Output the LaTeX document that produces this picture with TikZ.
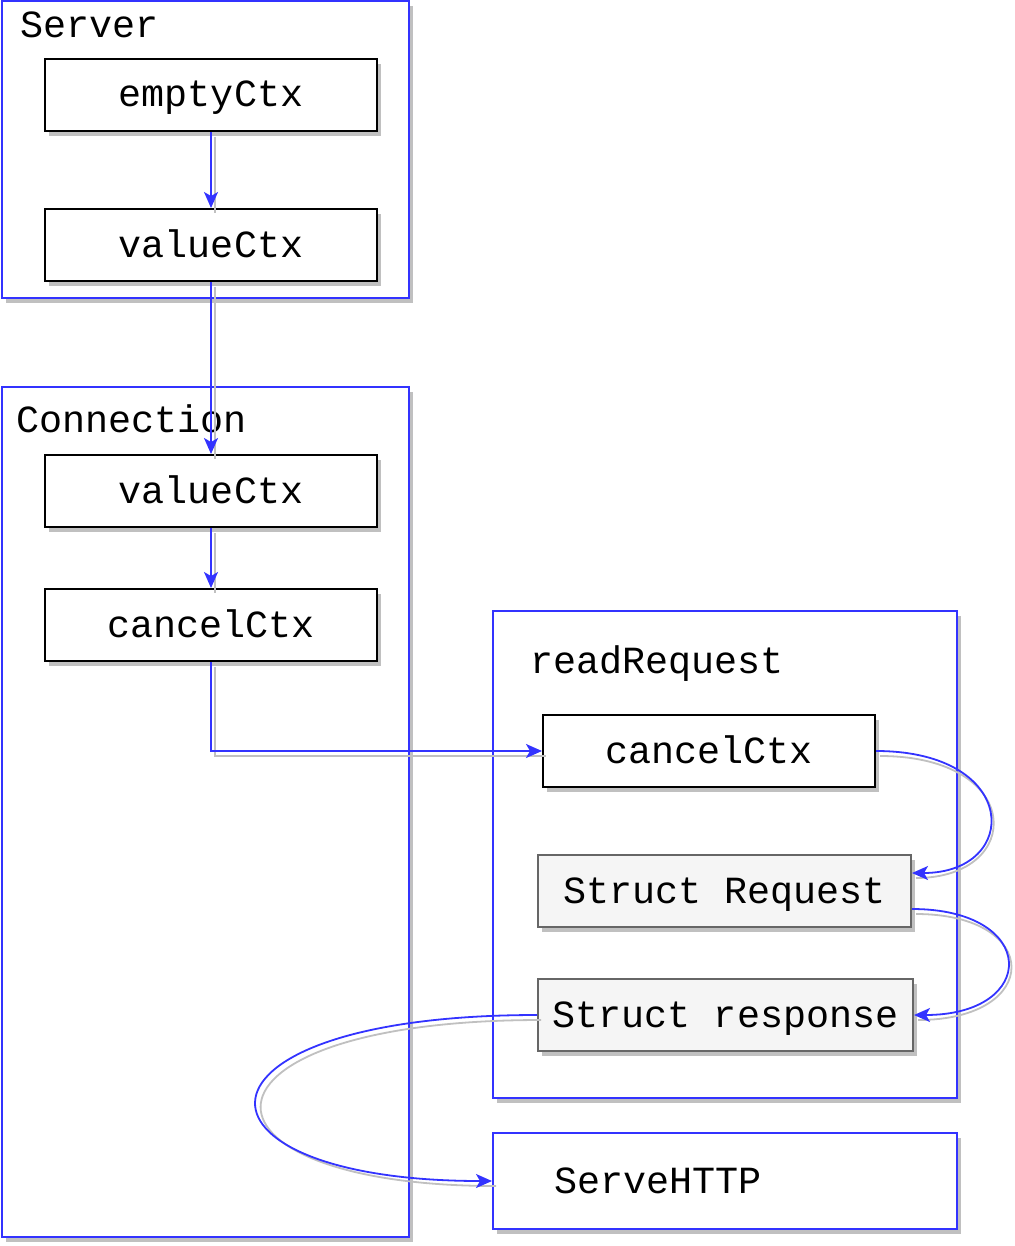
\documentclass[tikz,border=0pt]{standalone}
\usepackage{fontspec}
\newfontfamily\codefont{Liberation Mono}
\usepackage{tikz}
\usetikzlibrary{arrows.meta,positioning,shadows}
\definecolor{linkblue}{HTML}{3333FF}
\definecolor{boxgray}{HTML}{F5F5F5}
\definecolor{edgegray}{HTML}{666666}
\definecolor{shadegray}{HTML}{C0C0C0}

\begin{document}
\begin{tikzpicture}[x=0.5pt, y=-0.5pt,
  every node/.style={font=\codefont\fontsize{19.2}{22}\selectfont},
  shade/.style={drop shadow={shadow xshift=2pt, shadow yshift=-2.5pt, fill=shadegray, opacity=1}},
  frame/.style={draw=linkblue, line width=1pt, fill=white, shade, inner sep=0pt},
  ctxbox/.style={draw=black, line width=1pt, fill=white, shade, minimum width=166pt, minimum height=36pt,
    inner sep=0pt, text height=15pt, text depth=3pt},
  structbox/.style={ctxbox, draw=edgegray, fill=boxgray},
  title/.style={anchor=west, inner sep=0pt},
  link/.style={draw=linkblue, line width=0.9pt, -{Stealth[length=8pt, width=7pt, inset=2pt]},
    preaction={draw=shadegray, line width=0.9pt, -, transform canvas={shift={(2pt,-2.5pt)}}}}]
  \useasboundingbox (0,0) rectangle (1014,1246);

  \node[frame, minimum width=203.5pt, minimum height=148.5pt] (srv) at (205.5,149.5) {};
  \node[frame, minimum width=203.5pt, minimum height=425pt] (conn) at (205.5,812) {};
  \node[frame, minimum width=232pt, minimum height=243.5pt] (rdreq) at (725,854.5) {};
  \node[frame, minimum width=232pt, minimum height=48pt] (serve) at (725,1181) {};

  \node[title] (srvtitle) at (20,25) {Server};
  \node[title] (conntitle) at (16,419) {Connection};
  \node[title] (rdreqtitle) at (530,664) {readRequest};
  \node[title, right=31pt of serve.west] (servetitle) {ServeHTTP};

  \node[ctxbox] (empty) at (211,95) {emptyCtx};
  \node[ctxbox] (val1) at (211,245) {valueCtx};
  \node[ctxbox] (val2) at (211,491) {valueCtx};
  \node[ctxbox] (cancel1) at (211,625) {cancelCtx};
  \node[ctxbox] (cancel2) at (709,751) {cancelCtx};
  \node[structbox, minimum width=186.5pt] (req) at (724.5,891) {Struct Request};
  \node[structbox, minimum width=187.5pt] (resp) at (725.5,1015) {Struct response};

  \draw[link] (empty) -- (val1);
  \draw[link] (val1) -- (val2);
  \draw[link] (val2) -- (cancel1);
  \draw[link] (cancel1) |- (cancel2);
  \draw[link] (cancel2.east) .. controls +(145,0) and +(109,0) .. ([yshift=9pt]req.east);
  \draw[link] ([yshift=-9pt]req.east) .. controls +(127,0) and +(125,0) .. (resp.east);
  \draw[link] (resp.west) .. controls +(-366,0) and +(-321,0) .. (serve.west);
\end{tikzpicture}
\end{document}
